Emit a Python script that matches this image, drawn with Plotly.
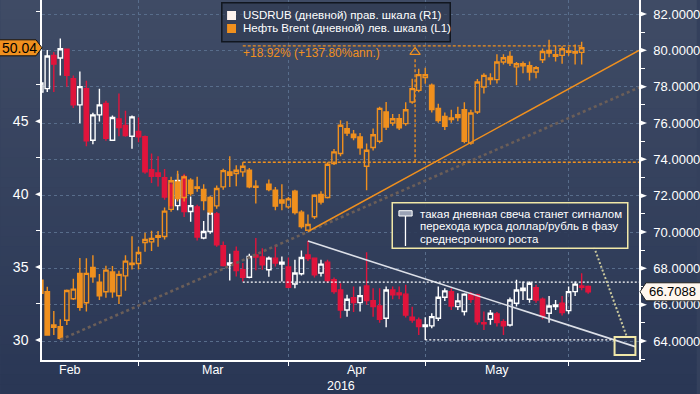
import numpy as np
import pandas as pd
import plotly.graph_objects as go

# ---------------- data (weekdays 2016-02-09 .. 2016-06-06) ----------------
START, END, ANCHOR = "2016-02-09", "2016-06-06", "2016-02-10"

USD_OPEN = [77.70, 77.89, 79.72, 79.58, 80.06, 78.44, 77.00, 77.89, 75.05, 76.45,
            77.07, 75.05, 76.23, 75.86, 75.27, 75.53, 75.24, 73.43, 73.25, 72.99,
            72.59, 71.45, 73.06, 71.13, 71.38, 69.67, 70.03, 71.00, 69.24, 68.18,
            68.93, 67.92, 67.51, 68.73, 68.62, 67.92, 68.56, 68.23, 68.07, 67.14,
            67.70, 68.74, 68.56, 67.74, 68.34, 67.37, 66.81, 65.71, 66.39, 66.11,
            67.03, 66.22, 65.93, 65.25, 66.81, 66.65, 66.58, 65.31, 65.16, 64.79,
            64.83, 65.25, 66.41, 66.72, 65.89, 65.62, 66.58, 66.54, 65.01, 65.20,
            65.49, 65.06, 64.88, 66.08, 66.78, 66.30, 66.94, 66.30, 65.53, 65.89,
            66.08, 65.67, 66.72, 67.03, 67.00]
USD_HIGH = [78.30, 80.02, 79.91, 80.65, 80.10, 78.62, 78.84, 78.33, 76.56, 77.89,
            77.22, 76.41, 77.63, 76.67, 76.41, 76.30, 75.31, 74.32, 74.17, 73.47,
            72.80, 73.20, 73.20, 71.96, 71.50, 70.60, 71.20, 71.10, 69.48, 68.80,
            69.20, 68.30, 68.80, 69.67, 69.11, 68.65, 69.30, 68.65, 68.60, 68.47,
            68.98, 69.52, 68.60, 68.47, 68.47, 67.50, 67.18, 66.54, 67.00, 67.00,
            68.89, 66.90, 66.90, 67.00, 67.00, 67.00, 67.09, 65.89, 65.30, 65.31,
            65.53, 67.00, 66.90, 66.90, 66.63, 66.63, 66.70, 66.60, 65.62, 65.71,
            65.60, 65.20, 66.40, 67.37, 67.27, 67.27, 67.10, 66.40, 66.48, 66.26,
            66.48, 67.00, 67.27, 67.73, 67.05]
USD_LOW = [77.60, 77.70, 77.70, 78.62, 78.00, 76.82, 75.99, 74.72, 74.83, 76.08,
           75.02, 75.02, 75.27, 75.24, 74.58, 74.94, 73.21, 72.70, 72.51, 71.78,
           71.30, 71.20, 70.82, 70.57, 69.53, 69.60, 69.90, 69.19, 68.10, 67.33,
           67.55, 67.27, 67.46, 67.90, 67.92, 67.53, 68.10, 67.27, 66.90, 66.90,
           67.60, 68.40, 67.50, 67.55, 67.20, 66.60, 65.25, 65.34, 65.60, 65.62,
           66.00, 65.34, 65.00, 64.76, 66.30, 66.30, 65.30, 65.00, 64.33, 64.06,
           64.70, 65.10, 66.20, 65.70, 65.70, 65.40, 66.10, 64.90, 64.61, 64.90,
           64.80, 64.33, 64.80, 65.90, 66.26, 66.10, 66.10, 65.20, 65.01, 65.70,
           65.40, 65.50, 66.48, 66.80, 66.60]
USD_CLOSE = [78.20, 79.69, 79.24, 80.09, 78.62, 77.00, 78.00, 75.02, 76.45, 77.00,
             75.16, 76.30, 75.75, 75.31, 76.34, 75.24, 73.32, 73.06, 73.06, 71.93,
             71.45, 72.84, 71.13, 71.45, 69.72, 70.03, 71.05, 69.30, 68.15, 68.29,
             67.88, 67.51, 68.65, 68.62, 68.19, 68.56, 68.29, 68.34, 66.96, 67.74,
             68.60, 68.54, 67.64, 68.23, 67.33, 66.72, 65.71, 66.30, 66.11, 66.50,
             66.22, 65.89, 65.20, 66.81, 66.54, 66.54, 65.43, 65.16, 64.79, 64.88,
             65.34, 66.41, 66.76, 65.93, 66.21, 66.58, 66.30, 65.06, 64.94, 65.53,
             65.01, 64.83, 66.26, 66.81, 66.91, 67.18, 66.26, 65.38, 65.93, 65.98,
             65.56, 66.72, 67.13, 66.96, 66.71]

N = None
BRENT_OPEN = [34.10, 33.31, 31.03, 30.91, 31.35, 32.83, 34.57, 32.55, 34.98, 33.97,
              33.31, 34.66, 33.03, 34.40, 35.27, 35.25, 36.69, 36.73, 37.15, 37.10,
              38.96, 40.84, 39.77, 40.96, 40.50, 40.32, 39.77, 39.20, 40.50, 41.53,
              41.42, 41.53, 41.64, 40.55, N, 40.68, 40.27, 39.60, 39.13, 40.21,
              38.77, 37.53, 38.45, 39.98, 39.77, 42.10, 42.79, 44.50, 44.11, 43.93,
              41.92, 43.20, 43.63, 45.64, 44.88, 45.18, 44.84, 46.32, 47.12, 48.00,
              47.47, 45.89, 45.34, 45.23, 45.46, 45.79, 43.50, 45.64, 47.35, 47.97,
              47.86, 49.07, 49.45, 48.73, 48.95, 48.81, 48.38, 49.22, 49.86, 49.57,
              49.52, 49.73, 49.77, 49.73, N]
BRENT_HIGH = [34.30, 33.65, 31.99, 31.42, 33.47, 34.20, 35.62, 35.60, 35.82, 34.52,
              35.10, 35.07, 34.75, 35.82, 37.12, 36.39, 37.35, 37.50, 37.47, 39.08,
              41.19, 41.60, 41.30, 41.10, 41.19, 40.68, 39.90, 40.60, 41.75, 42.60,
              41.99, 42.20, 41.80, 40.96, N, 41.00, 40.50, 40.68, 39.80, 40.30,
              38.90, 38.60, 40.00, 40.20, 42.20, 43.10, 45.07, 45.00, 44.40, 44.20,
              43.47, 44.50, 46.00, 46.32, 45.50, 45.50, 46.30, 47.92, 48.60, 48.68,
              47.60, 46.20, 45.60, 45.80, 46.00, 46.30, 45.80, 47.90, 48.30, 48.30,
              49.60, 49.60, 49.80, 49.07, 49.10, 49.10, 48.80, 50.00, 50.60, 50.20,
              50.14, 50.10, 50.27, 50.45, N]
BRENT_LOW = [32.90, 30.30, 30.34, 30.00, 31.03, 32.74, 32.00, 31.95, 33.93, 32.74,
             32.90, 32.90, 32.47, 33.38, 34.84, 34.84, 36.05, 36.10, 36.39, 36.90,
             38.80, 39.50, 39.50, 39.90, 40.16, 38.90, 38.60, 39.00, 40.30, 40.50,
             40.55, 41.20, 40.40, 39.36, N, 40.20, 38.90, 38.90, 39.00, 38.60,
             37.65, 37.50, 38.30, 39.30, 39.70, 42.00, 42.60, 44.00, 43.70, 42.70,
             40.27, 43.00, 43.50, 44.40, 44.70, 44.40, 44.70, 46.20, 47.00, 47.58,
             45.60, 44.90, 44.40, 44.90, 45.00, 43.50, 43.40, 45.50, 46.90, 47.50,
             47.60, 48.90, 48.80, 47.47, 48.30, 47.80, 47.95, 49.00, 49.40, 49.10,
             48.95, 49.50, 48.90, 48.90, N]
BRENT_CLOSE = [33.20, 30.34, 30.87, 30.12, 33.40, 33.49, 32.24, 34.57, 34.34, 33.03,
               34.79, 33.31, 34.50, 35.41, 35.18, 36.00, 36.90, 36.97, 37.05, 38.84,
               40.92, 39.70, 41.19, 40.05, 40.40, 39.56, 38.80, 40.39, 41.62, 41.30,
               41.64, 41.92, 40.50, 40.47, N, 40.32, 39.18, 39.40, 39.68, 38.75,
               37.78, 37.92, 39.93, 39.47, 42.05, 42.90, 44.73, 44.20, 43.88, 43.18,
               43.01, 44.08, 45.89, 44.61, 45.18, 44.56, 45.79, 47.24, 48.20, 48.20,
               45.80, 45.05, 44.66, 45.12, 45.25, 43.63, 45.57, 47.70, 48.15, 47.86,
               49.07, 49.36, 49.00, 48.95, 48.80, 48.38, 48.68, 49.79, 49.68, 49.45,
               49.98, 49.82, 49.68, 50.04, N]

MONTHS = ["Feb", "Mar", "Apr", "May"]
MONTH_STARTS = ["2016-02-01", "2016-03-01", "2016-04-01", "2016-05-01", "2016-06-01"]
YEAR_LABEL = "2016"
RIGHT_TICKS = [64, 66, 68, 70, 72, 74, 76, 78, 80, 82]
RIGHT_MINOR = [63, 65, 67, 69, 71, 73, 75, 77, 79, 81]
LEFT_TICKS = [30, 35, 40, 45]
LEFT_MINOR = [32.5, 37.5, 42.5, 47.5, 52.5]
LAST_USD, LAST_BRENT = 66.7088, 50.04

# drawn analysis lines (x = weekday index from 2016-02-10)
BRENT_TREND_X, BRENT_TREND_Y = [40, 90.8], [37.44, 49.86]
BRENT_DOT_X, BRENT_DOT_Y = [2, 90.8], [30.02, 47.32]
USD_TREND_X, USD_TREND_Y = [40, 90.2], [69.50, 63.69]
USD_RES_X, USD_RES_Y = [30, 90.8], [67.24, 67.24]
USD_SUP_X, USD_SUP_Y = [58, 87], [64.06, 64.06]
MEAS_LO_X, MEAS_LO_Y = [30, 90.8], [42.19, 42.19]
MEAS_HI_X, MEAS_HI_Y = [30, 82], [50.17, 50.17]
MEAS_V_X, MEAS_V_Y = [56.44, 56.44], [42.19, 49.4]
MEAS_TEXT = "+18.92% (+137.80%ann.)"
CONNECT_X, CONNECT_Y = [83.9, 88.95], [69.17, 64.22]
BOX_X, BOX_Y = [87.05, 90.25], [63.23, 64.22]

LEGEND_USD = "USDRUB (дневной) прав. шкала (R1)"
LEGEND_BRENT = "Нефть Brent (дневной) лев. шкала (L1)"
NOTE_LINES = ["такая дневная свеча станет сигналом",
              "перехода курса доллар/рубль в фазу",
              "среднесрочного роста"]

# ---------------- build ----------------
dates = pd.bdate_range(START, END)
xi = np.busday_count(ANCHOR, dates.values.astype("datetime64[D]")).astype(float)

first_bd = [np.busday_offset(m, 0, roll="forward") for m in MONTH_STARTS]
mpos = [int(np.busday_count(ANCHOR, d)) for d in first_bd]
grid_ticks = mpos[1:]
label_pos = [(mpos[i] + mpos[i + 1]) / 2 for i in range(len(MONTHS))]

FONT = "Liberation Sans, Arial, sans-serif"
ORANGE = "#f0901e"
RED = "#e0143c"
WHITE = "#ffffff"

W, H = 700, 394
ML, MR, MT, MB = 42, 58, 0, 34
PW, PH = W - ML - MR, H - MT - MB


def px(x):
    return (x - ML) / PW


def py(y):
    return 1 - (y - MT) / PH


fig = go.Figure()

# USDRUB candles (right axis, y)
fig.add_trace(go.Candlestick(
    x=xi, open=USD_OPEN, high=USD_HIGH, low=USD_LOW, close=USD_CLOSE,
    yaxis="y", xaxis="x",
    increasing=dict(line=dict(color=WHITE, width=1.4), fillcolor="rgba(0,0,0,0)"),
    decreasing=dict(line=dict(color=RED, width=1.4), fillcolor=RED),
    showlegend=False, hoverinfo="skip"))

fig.add_trace(go.Scatter(x=USD_TREND_X, y=USD_TREND_Y, mode="lines", yaxis="y",
                         line=dict(color="#dde0e8", width=1.6), hoverinfo="skip", showlegend=False))
for xs, ys in [(USD_RES_X, USD_RES_Y), (USD_SUP_X, USD_SUP_Y)]:
    fig.add_trace(go.Scatter(x=xs, y=ys, mode="lines", yaxis="y",
                             line=dict(color=WHITE, width=1.3, dash="2px,2px"),
                             hoverinfo="skip", showlegend=False))
fig.add_trace(go.Scatter(x=CONNECT_X, y=CONNECT_Y, mode="lines", yaxis="y",
                         line=dict(color="#c9c79c", width=2, dash="2px,2px"),
                         hoverinfo="skip", showlegend=False))

# Brent (left axis, y2) drawn on top
bmask = [v is not None for v in BRENT_OPEN]
fig.add_trace(go.Candlestick(
    x=xi[bmask],
    open=[v for v in BRENT_OPEN if v is not None],
    high=[v for v in BRENT_HIGH if v is not None],
    low=[v for v in BRENT_LOW if v is not None],
    close=[v for v in BRENT_CLOSE if v is not None],
    yaxis="y2", xaxis="x",
    increasing=dict(line=dict(color=ORANGE, width=1.4), fillcolor="rgba(0,0,0,0)"),
    decreasing=dict(line=dict(color=ORANGE, width=1.4), fillcolor=ORANGE),
    showlegend=False, hoverinfo="skip"))

fig.add_trace(go.Scatter(x=BRENT_DOT_X, y=BRENT_DOT_Y, mode="lines", yaxis="y2",
                         line=dict(color="#6b5e58", width=2.6, dash="3px,3px"),
                         hoverinfo="skip", showlegend=False))
fig.add_trace(go.Scatter(x=BRENT_TREND_X, y=BRENT_TREND_Y, mode="lines", yaxis="y2",
                         line=dict(color=ORANGE, width=1.5), hoverinfo="skip", showlegend=False))
for xs, ys in [(MEAS_LO_X, MEAS_LO_Y), (MEAS_HI_X, MEAS_HI_Y), (MEAS_V_X, MEAS_V_Y)]:
    fig.add_trace(go.Scatter(x=xs, y=ys, mode="lines", yaxis="y2",
                             line=dict(color=ORANGE, width=1.3, dash="3px,2px"),
                             hoverinfo="skip", showlegend=False))
fig.add_trace(go.Scatter(x=[MEAS_V_X[1]], y=[MEAS_V_Y[1] + 0.35], mode="markers", yaxis="y2",
                         marker=dict(symbol="triangle-up-open", size=9,
                                     line=dict(color=ORANGE, width=1.2), color=ORANGE),
                         hoverinfo="skip", showlegend=False))

# ---------------- shapes ----------------
shapes = []
# background gradient
top = np.array([0x40, 0x4c, 0x66])
bot = np.array([0x2a, 0x37, 0x55])
NS = 40
for i in range(NS):
    y0p, y1p = H * i / NS, H * (i + 1) / NS + 0.8
    c = top + (bot - top) * (i + 0.5) / NS
    shapes.append(dict(type="rect", xref="paper", yref="paper", layer="below",
                       x0=px(0), x1=px(W), y0=py(y1p), y1=py(y0p),
                       fillcolor="rgb(%d,%d,%d)" % tuple(c.astype(int)), line=dict(width=0)))

# axis arrow ticks
for v in LEFT_TICKS:
    shapes.append(dict(type="path", xref="paper", yref="y2", xsizemode="pixel", ysizemode="pixel",
                       xanchor=0, yanchor=v, path="M 0,-3 L -7,0 L 0,3 Z",
                       fillcolor=WHITE, line=dict(width=0), layer="above"))
for v in RIGHT_TICKS:
    shapes.append(dict(type="path", xref="paper", yref="y", xsizemode="pixel", ysizemode="pixel",
                       xanchor=1, yanchor=v, path="M 0,-3 L 8,0 L 0,3 Z",
                       fillcolor=WHITE, line=dict(width=0), layer="above"))

# last value labels
shapes.append(dict(type="path", xref="paper", yref="y2", xsizemode="pixel", ysizemode="pixel",
                   xanchor=0, yanchor=LAST_BRENT, path="M -43,-8 L -6,-8 L 0,0 L -6,8 L -43,8 Z",
                   fillcolor=ORANGE, line=dict(color="#111111", width=1), layer="above"))
shapes.append(dict(type="path", xref="paper", yref="y", xsizemode="pixel", ysizemode="pixel",
                   xanchor=1, yanchor=LAST_USD, path="M 1,0 L 7,-9 L 62,-9 L 62,9 L 7,9 Z",
                   fillcolor="#fff6ee", line=dict(color="#222222", width=1), layer="above"))

# yellow target box
shapes.append(dict(type="rect", xref="x", yref="y", x0=BOX_X[0], x1=BOX_X[1], y0=BOX_Y[0], y1=BOX_Y[1],
                   line=dict(color="#f1e8a8", width=2), fillcolor="rgba(0,0,0,0)", layer="above"))

# legend box
shapes.append(dict(type="rect", xref="paper", yref="paper", x0=px(222.7), x1=px(452.3),
                   y0=py(41.7), y1=py(2.7), fillcolor="rgba(44,54,76,0.55)",
                   line=dict(color="#11161f", width=1.5), layer="above"))
shapes.append(dict(type="rect", xref="paper", yref="paper", x0=px(228), x1=px(237),
                   y0=py(20), y1=py(11), fillcolor="#fdf3ee", line=dict(width=0), layer="above"))
shapes.append(dict(type="rect", xref="paper", yref="paper", x0=px(228), x1=px(237),
                   y0=py(33), y1=py(24), fillcolor=ORANGE, line=dict(width=0), layer="above"))

# note box
shapes.append(dict(type="rect", xref="paper", yref="paper", x0=px(394), x1=px(630.7),
                   y0=py(248.3), y1=py(202.7), fillcolor="rgba(46,58,86,0.9)",
                   line=dict(color="#f1e8a8", width=1.5), layer="above"))
shapes.append(dict(type="line", xref="paper", yref="paper", x0=px(407.3), x1=px(407.3),
                   y0=py(246), y1=py(216), line=dict(color=WHITE, width=1.3), layer="above"))
shapes.append(dict(type="rect", xref="paper", yref="paper", x0=px(400.7), x1=px(414),
                   y0=py(216), y1=py(210.7), fillcolor="#9ba3b6",
                   line=dict(color=WHITE, width=1), layer="above"))

# ---------------- annotations ----------------
ann = []
for lab, pos in zip(MONTHS, label_pos):
    ann.append(dict(x=pos, y=py(370.5), xref="x", yref="paper", text=lab, showarrow=False,
                    font=dict(family=FONT, size=12.5, color=WHITE), xanchor="center", yanchor="middle"))
ann.append(dict(x=45, y=py(385.5), xref="x", yref="paper", text=YEAR_LABEL, showarrow=False,
                font=dict(family=FONT, size=12.5, color=WHITE), xanchor="center", yanchor="middle"))
ann.append(dict(x=px(19), y=LAST_BRENT, xref="paper", yref="y2", text="%.2f" % LAST_BRENT,
                showarrow=False, font=dict(family=FONT, size=14, color="#000000"),
                xanchor="center", yanchor="middle"))
ann.append(dict(x=px(650), y=LAST_USD, xref="paper", yref="y", text="%.4f" % LAST_USD,
                showarrow=False, font=dict(family=FONT, size=13, color="#000000"),
                xanchor="left", yanchor="middle"))
ann.append(dict(x=px(242), y=py(15.5), xref="paper", yref="paper", text=LEGEND_USD, showarrow=False,
                font=dict(family=FONT, size=11.5, color=WHITE), xanchor="left", yanchor="middle"))
ann.append(dict(x=px(242), y=py(28.5), xref="paper", yref="paper", text=LEGEND_BRENT, showarrow=False,
                font=dict(family=FONT, size=11.5, color=WHITE), xanchor="left", yanchor="middle"))
ann.append(dict(x=px(242), y=py(53), xref="paper", yref="paper", text=MEAS_TEXT, showarrow=False,
                font=dict(family=FONT, size=12, color=ORANGE), xanchor="left", yanchor="middle"))
for i, line in enumerate(NOTE_LINES):
    ann.append(dict(x=px(420), y=py(213.5 + 12.5 * i), xref="paper", yref="paper", text=line,
                    showarrow=False, font=dict(family=FONT, size=11.5, color=WHITE),
                    xanchor="left", yanchor="middle"))

GRID = "#586d8b"
fig.update_layout(
    width=W, height=H, autosize=False,
    margin=dict(l=ML, r=MR, t=MT, b=MB, pad=0),
    paper_bgcolor="#34405c", plot_bgcolor="rgba(0,0,0,0)",
    showlegend=False, boxgap=0.04,
    font=dict(family=FONT, color=WHITE),
    xaxis=dict(range=[-0.81, 90.8], tickmode="array", tickvals=grid_ticks, showticklabels=False,
               ticks="outside", ticklen=4, tickcolor=WHITE, tickwidth=1,
               showgrid=True, gridcolor=GRID, griddash="3px,3px", gridwidth=1,
               showline=True, linecolor=WHITE, linewidth=1.5, zeroline=False,
               rangeslider=dict(visible=False), fixedrange=True),
    yaxis=dict(side="right", range=[62.954, 82.771], tickmode="array", tickvals=RIGHT_TICKS,
               ticktext=["%.4f" % v for v in RIGHT_TICKS], ticks="", ticklabelstandoff=10,
               tickfont=dict(family=FONT, size=13, color=WHITE),
               showgrid=True, gridcolor=GRID, griddash="3px,3px", gridwidth=1,
               showline=True, linecolor=WHITE, linewidth=1.5, zeroline=False,
               minor=dict(tickmode="array", tickvals=RIGHT_MINOR, ticks="outside", ticklen=4,
                          tickcolor=WHITE, tickwidth=1, showgrid=False)),
    yaxis2=dict(overlaying="y", side="left", range=[28.628, 53.32], tickmode="array",
                tickvals=LEFT_TICKS, ticktext=[str(v) for v in LEFT_TICKS], ticks="",
                ticklabelstandoff=9, tickfont=dict(family=FONT, size=14, color=WHITE),
                showgrid=False, showline=True, linecolor=WHITE, linewidth=1.5, zeroline=False,
                minor=dict(tickmode="array", tickvals=LEFT_MINOR, ticks="outside", ticklen=4,
                           tickcolor=WHITE, tickwidth=1, showgrid=False)),
    shapes=shapes, annotations=ann,
)

fig.write_html("out.html")
